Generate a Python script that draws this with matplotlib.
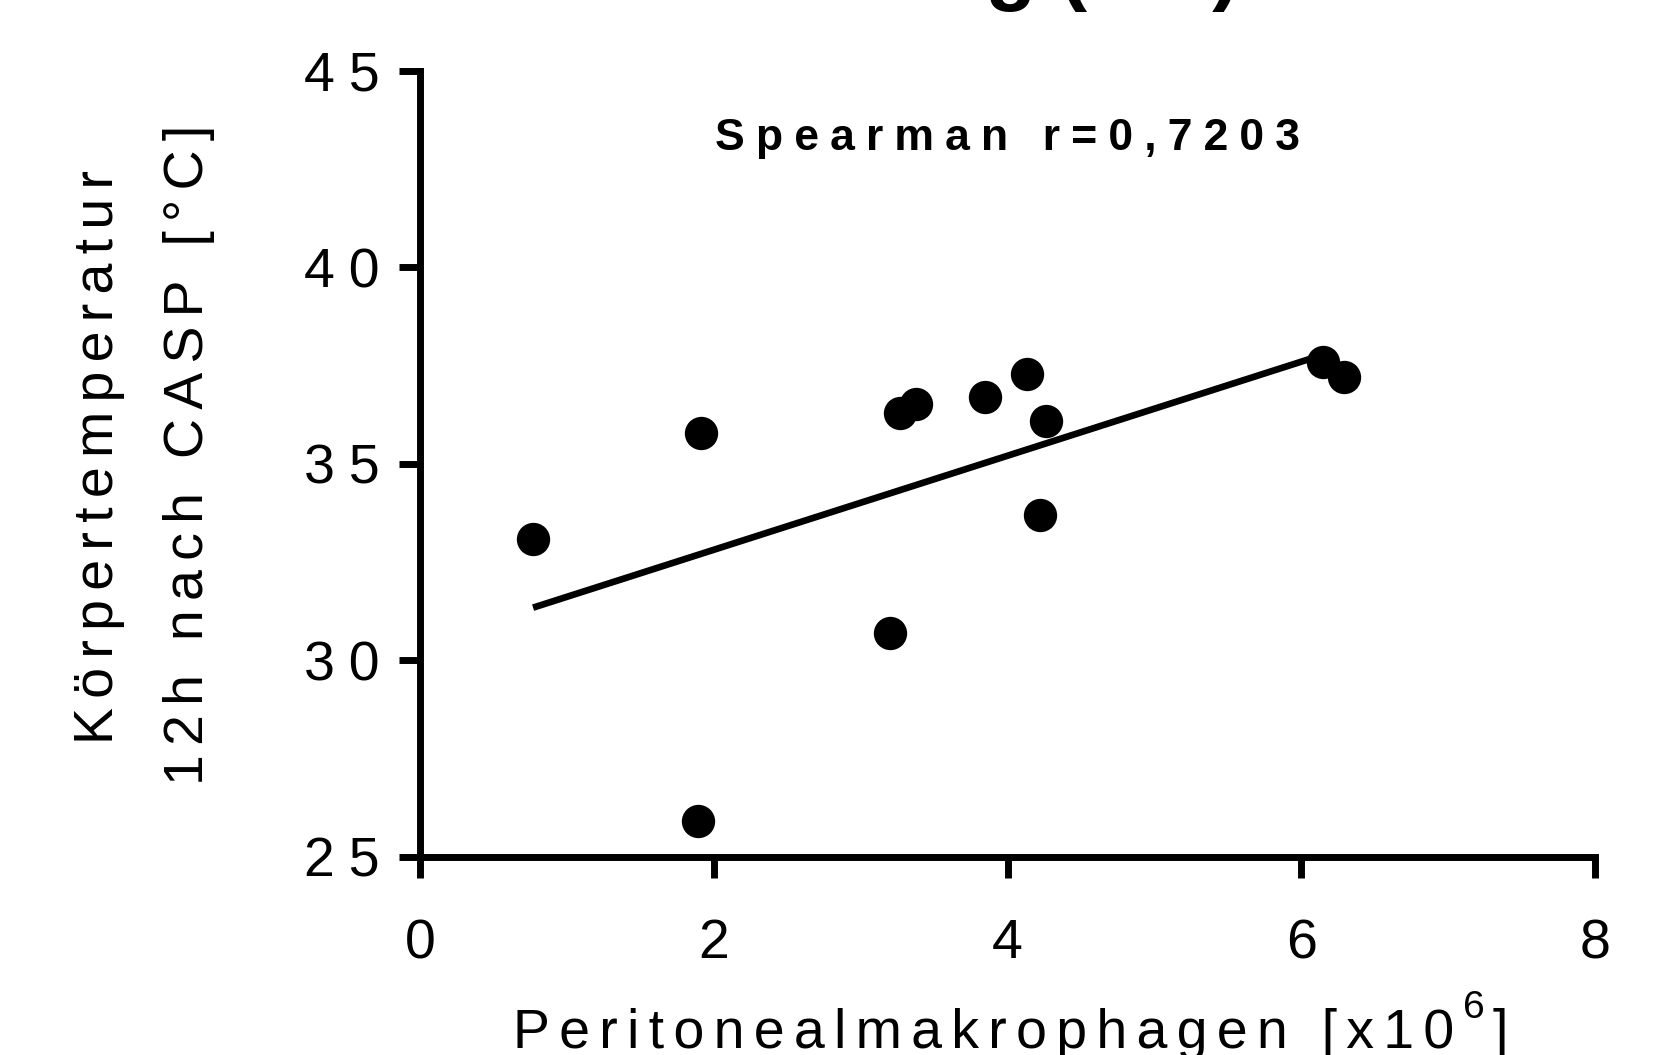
import matplotlib
matplotlib.use("Agg")
import matplotlib.pyplot as plt
import numpy as np

plt.rcParams['font.family'] = ['Liberation Sans', 'DejaVu Sans']

# data
makrophagen = [0.77, 1.91, 3.27, 3.38, 3.85, 4.13, 4.26, 4.22, 3.20, 6.15, 6.29, 1.89]
temperatur = [33.09, 35.79, 36.30, 36.53, 36.70, 37.29, 36.09, 33.70, 30.70, 37.60, 37.21, 25.92]
fit_end = 6.15
x_ticks = [0, 2, 4, 6, 8]
y_ticks = [25, 30, 35, 40, 45]
spearman_text = "Spearman r=0,7203"

W, H = 1667, 1055


def spaced(s, sp):
    return sp.join(s)


x = np.array(makrophagen)
y = np.array(temperatur)
coef = np.polyfit(x, y, 1)
fit = np.poly1d(coef)
fit_x = np.array([x.min(), fit_end])

fig = plt.figure(figsize=(W / 100, H / 100), dpi=100)
ax = fig.add_axes([420 / W, 1 - 857 / H, (1595 - 420) / W, (857 - 71) / H])

ax.plot(fit_x, fit(fit_x), color='black', lw=4.8, solid_capstyle='butt', zorder=2)
ax.scatter(x, y, s=24 ** 2, color='black', linewidths=0, zorder=3)

ax.set_xlim(0, 8)
ax.set_ylim(25, 45)
ax.set_xticks(x_ticks)
ax.set_xticklabels([str(v) for v in x_ticks])
ax.set_yticks(y_ticks)
ax.set_yticklabels([spaced(str(v), '\u2005') for v in y_ticks])

for side in ['top', 'right']:
    ax.spines[side].set_visible(False)
for side in ['left', 'bottom']:
    ax.spines[side].set_linewidth(5)
    ax.spines[side].set_capstyle('projecting')

ax.tick_params(axis='both', direction='out', length=15, width=5, labelsize=40, color='black')
ax.tick_params(axis='x', pad=29)
ax.tick_params(axis='y', pad=14)

ax.text(4, 43.0, spaced(spearman_text, '\u2005'), ha='center', va='baseline',
        fontsize=32, fontweight='bold')

# y label, two lines
fig.text(113 / W, 1 - 457.5 / H, spaced("Körpertemperatur", '\u2006'), rotation=90,
         rotation_mode='anchor', ha='center', va='baseline', fontsize=40)
fig.text(203 / W, 1 - 454.5 / H, spaced("12h nach CASP [°C]", '\u2006'), rotation=90,
         rotation_mode='anchor', ha='center', va='baseline', fontsize=40)

# x label with superscript
xl = fig.text(513 / W, 1 - 1048 / H, spaced("Peritonealmakrophagen [x10", '\u2006'),
              ha='left', va='baseline', fontsize=40)
ax.annotate("6", xy=(1, 0), xycoords=xl, xytext=(6.5, 30), textcoords='offset points',
            ha='left', va='baseline', fontsize=28, annotation_clip=False)
ax.annotate("]", xy=(1, 0), xycoords=xl, xytext=(28, 0), textcoords='offset points',
            ha='left', va='bottom', fontsize=40, annotation_clip=False)

# title, mostly outside the picture
fig.text(1240 / W, 1 + 4.6 / H, "Messung (KO)", ha='right', va='baseline',
         fontsize=60, fontweight='bold')

fig.savefig('out.png', dpi=100)
